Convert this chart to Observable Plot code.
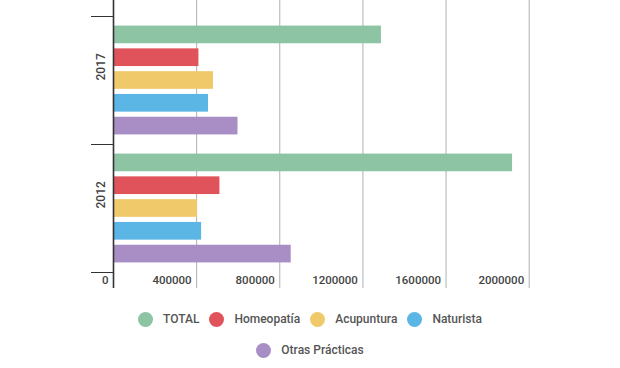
<!DOCTYPE html>
<html>
<head>
<meta charset="utf-8">
<script src="https://cdn.jsdelivr.net/npm/d3@7"></script>
<script src="https://cdn.jsdelivr.net/npm/@observablehq/plot@0.6"></script>
<style>
  html, body { margin: 0; padding: 0; background: #fff; }
  #chart { width: 620px; }
  .legend { width: 380px; margin: 17px auto 0 auto; display: flex; flex-wrap: wrap; justify-content: center; row-gap: 11px;
    font-family: Roboto, sans-serif; font-weight: 500; font-size: 12px; color: #555; }
  .legend .item { display: flex; align-items: center; height: 20px; margin: 0 5px; }
  .legend .sw { width: 15px; height: 15px; border-radius: 50%; margin-right: 10px; }
</style>
</head>
<body>
<div id="chart"></div>
<script>
const years = ["2017", "2012"];
const series = ["TOTAL", "Homeopatía", "Acupuntura", "Naturista", "Otras Prácticas"];
const values2017 = [1289000, 411000, 481000, 457000, 599000];
const values2012 = [1920000, 512000, 404000, 424000, 855000];
const colors = ["#8cc4a4", "#e0535a", "#f0c96a", "#5bb6e6", "#a98ec6"];
const xTicks = [0, 400000, 800000, 1200000, 1600000, 2000000];

const rows = [];
years.forEach((yr, g) => {
  const vals = g === 0 ? values2017 : values2012;
  series.forEach((s, i) => rows.push({year: yr, series: s, value: vals[i]}));
});

const W = 620, H = 292, mT = 16, mB = 20, mL = 113, mR = 91.3;
const bandH = (H - mT - mB) / years.length;
const inner = d3.scaleBand().domain(series).range([0, bandH]).paddingInner(0.224).paddingOuter(0.42);

const barMarks = series.map((s, i) => Plot.barX(rows.filter(r => r.series === s), {
  x: "value", y: "year", fill: colors[i],
  insetTop: inner(s), insetBottom: bandH - inner(s) - inner.bandwidth()
}));

const plot = Plot.plot({
  width: W, height: H, marginTop: mT, marginBottom: mB, marginLeft: mL, marginRight: mR,
  x: {domain: [0, 2000000], axis: null, label: null},
  y: {domain: years, padding: 0, axis: null, label: null},
  style: {fontFamily: "Roboto, sans-serif", fontSize: "11.5px", fontWeight: 500, color: "#444", background: "white", overflow: "visible"},
  marks: [
    Plot.ruleX(xTicks.slice(1), {x: d => d, stroke: "#b0b0b0", strokeWidth: 1, insetTop: -mT, insetBottom: -16}),
    ...barMarks,
    Plot.ruleX([0], {x: d => d, stroke: "#333", strokeWidth: 1.6, insetTop: -mT, insetBottom: -16}),
    Plot.ruleY(years, {y: d => d, x1: 0, x2: 0, insetLeft: -22, dy: -bandH / 2, stroke: "#333", strokeWidth: 1}),
    Plot.ruleY(years.slice(-1), {y: d => d, x1: 0, x2: 0, insetLeft: -22, dy: bandH / 2, stroke: "#333", strokeWidth: 1}),
    Plot.text(years, {y: d => d, text: d => d, frameAnchor: "left", dx: -12.6, rotate: -90, fill: "#444", fontSize: 12}),
    Plot.axisX(xTicks, {anchor: "bottom", label: null, tickSize: 0, tickPadding: 3.5, tickFormat: d3.format("d"), textAnchor: "end", dx: -5, fill: "#444", fontSize: 11.5})
  ]
});
document.getElementById("chart").appendChild(plot);

const legend = document.createElement("div");
legend.className = "legend";
series.forEach((s, i) => {
  const it = document.createElement("div");
  it.className = "item";
  const sw = document.createElement("span");
  sw.className = "sw";
  sw.style.background = colors[i];
  const tx = document.createElement("span");
  tx.textContent = s;
  it.appendChild(sw); it.appendChild(tx);
  legend.appendChild(it);
});
document.getElementById("chart").appendChild(legend);
</script>
</body>
</html>
